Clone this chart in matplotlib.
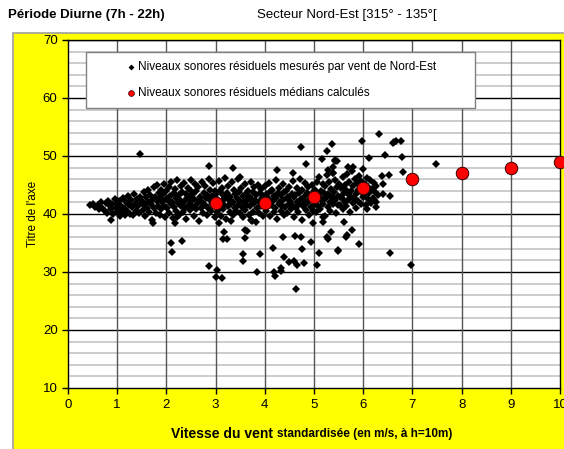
import matplotlib.pyplot as plt
from matplotlib.patches import Rectangle

plt.rcParams['font.family'] = ['Liberation Sans', 'DejaVu Sans']

# --- Data ---
# measured residual levels (wind speed m/s, dB(A)) - dense cloud read per 0.5 m/s bin
cloud = [
    (0.45, 41.6), (0.5, 41.8), (0.55, 41.2), (0.6, 41.5), (0.62, 40.8), (0.68, 42.1), (0.7, 41.0),
    (0.75, 40.5), (0.78, 41.9), (0.8, 40.2), (0.82, 42.3), (0.85, 41.3), (0.87, 39.0), (0.88, 40.8),
    (0.9, 41.7), (0.92, 40.0), (0.95, 42.6), (0.97, 41.1), (0.99, 40.4), (1.0, 41.8),
    (1.02, 40.9), (1.04, 42.2), (1.06, 39.6), (1.08, 41.4), (1.1, 40.3), (1.12, 42.8), (1.14, 41.0),
    (1.15, 39.8), (1.18, 42.0), (1.2, 40.6), (1.22, 43.1), (1.24, 41.6), (1.26, 40.0), (1.28, 42.4),
    (1.3, 41.2), (1.32, 39.9), (1.34, 43.4), (1.36, 41.8), (1.38, 40.5), (1.4, 42.6), (1.42, 41.4),
    (1.44, 40.1), (1.46, 43.0), (1.48, 41.9),
    (1.5, 42.3), (1.52, 40.7), (1.54, 43.8), (1.55, 41.5), (1.57, 39.6), (1.58, 42.9), (1.6, 41.1),
    (1.62, 44.2), (1.63, 42.0), (1.65, 40.4), (1.66, 43.3), (1.68, 41.7), (1.7, 38.9), (1.71, 42.5),
    (1.73, 38.4), (1.74, 44.6), (1.75, 41.0), (1.77, 43.0), (1.78, 40.1), (1.8, 42.2), (1.81, 45.0),
    (1.83, 41.4), (1.84, 43.6), (1.86, 39.8), (1.87, 42.8), (1.89, 44.1), (1.9, 40.9), (1.92, 42.0),
    (1.93, 43.4), (1.95, 41.3), (1.96, 45.2), (1.98, 39.5), (1.99, 42.6),
    (2.0, 43.9), (2.02, 41.0), (2.03, 42.4), (2.05, 44.7), (2.06, 40.2), (2.08, 43.1), (2.09, 41.7),
    (2.1, 45.5), (2.12, 42.0), (2.13, 39.3), (2.15, 43.6), (2.16, 41.2), (2.18, 44.3), (2.19, 42.7),
    (2.2, 40.6), (2.22, 45.8), (2.23, 41.9), (2.25, 43.2), (2.26, 39.8), (2.28, 42.5), (2.29, 44.9),
    (2.3, 41.4), (2.32, 43.8), (2.33, 40.3), (2.35, 42.1), (2.36, 45.3), (2.38, 41.0), (2.39, 43.5),
    (2.4, 39.2), (2.42, 42.8), (2.43, 44.4), (2.45, 41.6), (2.46, 43.0), (2.48, 40.7), (2.49, 45.9),
    (2.5, 42.2), (2.51, 44.0), (2.53, 41.3), (2.54, 43.4), (2.56, 39.7), (2.57, 42.6), (2.58, 45.1),
    (2.6, 40.9), (2.61, 43.9), (2.63, 41.8), (2.64, 44.6), (2.66, 42.3), (2.67, 38.8), (2.69, 43.0),
    (2.7, 41.1), (2.72, 45.6), (2.73, 42.0), (2.75, 40.2), (2.76, 43.7), (2.78, 41.5), (2.79, 44.8),
    (2.8, 42.7), (2.82, 39.9), (2.83, 43.3), (2.85, 41.0), (2.86, 46.1), (2.88, 42.4), (2.89, 44.2),
    (2.9, 40.6), (2.92, 43.1), (2.93, 41.7), (2.95, 45.3), (2.96, 42.9), (2.98, 39.4), (2.99, 44.0),
    (3.0, 41.4), (3.02, 43.6), (3.03, 40.4), (3.05, 42.5), (3.06, 45.7), (3.08, 41.1), (3.09, 43.9),
    (3.1, 39.6), (3.12, 42.2), (3.13, 44.5), (3.15, 40.8), (3.16, 43.2), (3.18, 41.6), (3.19, 46.2),
    (3.2, 42.8), (3.22, 39.1), (3.23, 43.7), (3.25, 41.3), (3.26, 44.9), (3.28, 42.4), (3.29, 40.3),
    (3.3, 43.0), (3.32, 41.8), (3.33, 45.5), (3.35, 42.1), (3.36, 39.8), (3.38, 44.1), (3.39, 41.0),
    (3.4, 43.4), (3.42, 40.6), (3.43, 42.7), (3.45, 46.0), (3.46, 41.5), (3.48, 43.8), (3.49, 40.1),
    (3.5, 42.3), (3.52, 44.4), (3.53, 41.2), (3.55, 43.1), (3.56, 39.4), (3.58, 42.0), (3.59, 45.2),
    (3.6, 40.7), (3.62, 43.5), (3.63, 41.6), (3.65, 44.0), (3.66, 42.6), (3.68, 39.9), (3.69, 43.0),
    (3.7, 41.3), (3.72, 45.6), (3.73, 42.2), (3.75, 40.4), (3.76, 43.8), (3.78, 41.9), (3.79, 44.6),
    (3.8, 42.5), (3.82, 38.7), (3.83, 43.3), (3.85, 41.0), (3.86, 45.0), (3.88, 42.1), (3.89, 40.2),
    (3.9, 43.6), (3.92, 41.4), (3.93, 44.3), (3.95, 42.8), (3.96, 39.6), (3.98, 43.1), (3.99, 41.7),
    (4.0, 44.8), (4.02, 42.0), (4.03, 40.5), (4.05, 43.4), (4.06, 41.3), (4.08, 45.4), (4.09, 42.6),
    (4.1, 39.7), (4.12, 43.9), (4.13, 41.6), (4.15, 44.2), (4.16, 42.3), (4.18, 40.3), (4.19, 43.1),
    (4.2, 41.0), (4.22, 45.8), (4.23, 42.8), (4.25, 39.2), (4.26, 43.6), (4.28, 41.8), (4.29, 44.5),
    (4.3, 42.1), (4.32, 40.6), (4.33, 43.3), (4.35, 41.4), (4.36, 45.1), (4.38, 42.5), (4.39, 39.9),
    (4.4, 43.8), (4.42, 41.2), (4.43, 44.0), (4.45, 42.7), (4.46, 40.1), (4.48, 43.0), (4.49, 41.7),
    (4.5, 44.6), (4.52, 42.3), (4.53, 40.8), (4.55, 43.5), (4.56, 41.5), (4.58, 45.7), (4.59, 42.9),
    (4.6, 39.5), (4.62, 43.2), (4.63, 41.1), (4.65, 44.4), (4.66, 42.0), (4.68, 40.4), (4.69, 43.7),
    (4.7, 41.8), (4.72, 46.0), (4.73, 42.6), (4.75, 38.9), (4.76, 44.1), (4.78, 41.3), (4.79, 43.0),
    (4.8, 42.2), (4.82, 45.3), (4.83, 40.7), (4.85, 43.6), (4.86, 41.9), (4.88, 44.7), (4.89, 42.4),
    (4.9, 39.8), (4.92, 43.3), (4.93, 41.2), (4.95, 45.0), (4.96, 42.8), (4.98, 40.5), (4.99, 43.9),
    (5.0, 41.6), (5.02, 44.2), (5.03, 42.5), (5.05, 40.3), (5.06, 45.6), (5.08, 43.1), (5.09, 41.4),
    (5.1, 46.3), (5.12, 42.9), (5.13, 40.9), (5.15, 44.0), (5.16, 42.2), (5.18, 45.1), (5.19, 41.7),
    (5.2, 43.6), (5.22, 39.6), (5.23, 44.8), (5.25, 42.7), (5.26, 46.7), (5.28, 41.2), (5.29, 43.4),
    (5.3, 45.5), (5.32, 42.0), (5.33, 40.6), (5.35, 44.3), (5.36, 42.9), (5.38, 47.0), (5.39, 41.8),
    (5.4, 43.8), (5.42, 45.9), (5.43, 42.4), (5.45, 40.2), (5.46, 44.6), (5.48, 43.1), (5.49, 41.5),
    (5.5, 45.2), (5.52, 43.0), (5.53, 41.6), (5.55, 44.4), (5.56, 42.7), (5.58, 46.4), (5.59, 40.8),
    (5.6, 43.7), (5.62, 45.0), (5.63, 42.1), (5.65, 44.1), (5.66, 41.3), (5.68, 46.9), (5.69, 43.4),
    (5.7, 42.5), (5.72, 45.5), (5.73, 40.4), (5.75, 44.0), (5.76, 43.0), (5.78, 47.4), (5.79, 41.9),
    (5.8, 44.8), (5.82, 42.8), (5.83, 46.0), (5.85, 43.5), (5.86, 41.1), (5.88, 45.3), (5.89, 44.2),
    (5.9, 42.3), (5.92, 46.6), (5.93, 43.9), (5.95, 41.7), (5.96, 45.7), (5.98, 44.5), (5.99, 42.9),
    (6.0, 47.7), (6.02, 43.3), (6.03, 45.1), (6.05, 41.5), (6.06, 44.0), (6.08, 46.2), (6.09, 42.6),
    (6.1, 44.7), (6.12, 43.6), (6.14, 45.8), (6.15, 41.9), (6.17, 44.3), (6.19, 42.8), (6.21, 45.4),
    (6.23, 43.8), (6.25, 41.2), (6.27, 44.9), (6.3, 43.2),
]

# scattered points outside the main cloud
outliers = [
    (1.46, 50.3), (2.87, 48.3), (3.35, 47.9), (2.09, 35.0), (2.11, 33.5), (2.32, 35.3), (2.17, 38.4),
    (2.22, 39.5), (3.07, 38.4), (3.17, 36.9), (3.15, 35.7), (3.23, 35.7), (3.31, 38.8), (3.6, 37.2),
    (3.64, 37.0), (3.6, 35.9), (3.56, 33.1), (3.56, 31.9), (2.87, 31.0), (3.03, 30.3), (3.01, 29.1),
    (3.13, 29.0), (3.74, 38.8), (3.84, 30.0), (3.9, 33.1), (4.17, 34.1), (4.19, 30.0), (4.21, 29.3),
    (4.33, 30.7), (4.33, 30.2), (4.37, 36.0), (4.39, 32.6), (4.49, 31.7), (4.59, 31.9), (4.65, 31.2),
    (4.63, 27.1), (4.61, 36.2), (4.25, 47.6), (4.57, 47.1), (3.5, 46.4), (4.74, 51.6), (5.37, 52.1),
    (5.26, 50.9), (5.16, 49.5), (5.43, 49.1), (5.47, 49.1), (4.84, 48.6), (5.39, 48.1), (5.28, 47.6),
    (5.39, 47.1), (3.72, 39.0), (4.74, 36.0), (4.94, 35.2), (4.76, 34.0), (4.8, 31.6), (5.06, 31.2),
    (5.1, 33.3), (5.26, 36.0), (5.28, 35.7), (5.34, 36.9), (5.49, 33.8), (5.18, 39.5), (5.18, 38.6),
    (4.98, 38.4), (6.32, 53.8), (5.98, 52.6), (6.6, 52.2), (6.63, 52.4), (6.67, 52.6), (6.77, 52.6),
    (6.44, 50.2), (6.12, 49.7), (6.79, 49.8), (6.81, 47.2), (5.69, 48.1), (5.79, 48.1), (6.38, 46.5),
    (6.52, 46.7), (6.41, 45.2), (6.4, 43.4), (6.54, 43.1), (5.43, 49.3), (5.6, 38.6), (5.77, 37.2),
    (5.67, 36.4), (5.65, 36.0), (5.91, 34.8), (5.49, 33.6), (6.54, 33.3), (6.97, 31.2), (6.22, 42.4),
    (6.26, 42.1), (6.08, 40.9), (7.48, 48.6),
]

measured_x = [p[0] for p in cloud + outliers]
measured_y = [p[1] for p in cloud + outliers]

# computed medians
median_speed = [3, 4, 5, 6, 7, 8, 9, 10]
median_level = [41.9, 41.9, 42.9, 44.5, 46.0, 47.1, 47.9, 49.0]

label_measured = 'Niveaux sonores résiduels mesurés par vent de Nord-Est'
label_median = 'Niveaux sonores résiduels médians calculés'

# --- Figure ---
fig = plt.figure(figsize=(5.64, 4.49), dpi=100)
fig.patch.set_facecolor('white')

# yellow chart area with grey border (behind the axes)
bg = Rectangle((13 / 564, -0.01), 1, 1 - 33 / 449 + 0.01, transform=fig.transFigure,
               facecolor='#ffff00', edgecolor='#a0a0a0', linewidth=1.2, zorder=-10)
fig.patches.append(bg)

ax = fig.add_axes([68 / 564, 1 - 388 / 449, 492 / 564, 348 / 449])
ax.set_zorder(1)
ax.set_facecolor('white')

ax.set_xlim(0, 10)
ax.set_ylim(10, 70)
ax.set_xticks(range(0, 11))
ax.set_yticks(range(10, 71, 10))

# grid: light minor horizontals, black majors, grey verticals
for y in range(12, 70, 2):
    if y % 10:
        ax.axhline(y, color='#c8c8c8', linewidth=1.3, zorder=1)
for y in range(20, 71, 10):
    ax.axhline(y, color='black', linewidth=1.0, zorder=1.5)
for x in range(1, 10):
    ax.axvline(x, color='#555555', linewidth=1.0, zorder=1.5)

for sp in ax.spines.values():
    sp.set_color('black')
    sp.set_linewidth(1.0)

ax.tick_params(axis='both', which='major', direction='out', length=4, width=1, labelsize=9.5)
ax.tick_params(axis='x', pad=4)

ax.plot(measured_x, measured_y, linestyle='none', marker='D', markersize=4.2,
        color='black', markeredgewidth=0, zorder=3)
ax.plot(median_speed, median_level, linestyle='none', marker='o', markersize=9,
        markerfacecolor='#ff0000', markeredgecolor='#3a0000', markeredgewidth=0.7,
        zorder=4, clip_on=False)

# legend box drawn by hand to match the spread-out layout
ax.add_patch(Rectangle((0.0366, 0.8046), 0.7904, 0.1609, transform=ax.transAxes,
                       facecolor='white', edgecolor='#808080', linewidth=1, zorder=5))
ax.plot([0.128], [0.922], transform=ax.transAxes, marker='D', markersize=3, color='black',
        markeredgewidth=0, zorder=6)
ax.plot([0.128], [0.848], transform=ax.transAxes, marker='o', markersize=4.2,
        markerfacecolor='#ff0000', markeredgecolor='#3a0000', markeredgewidth=0.5, zorder=6)
ax.text(0.142, 0.922, label_measured, transform=ax.transAxes, fontsize=8.5, va='center', zorder=6)
ax.text(0.142, 0.848, label_median, transform=ax.transAxes, fontsize=8.5, va='center', zorder=6)

ax.set_ylabel("Titre de l'axe", fontsize=8.5, labelpad=3)

# titles
fig.text(8 / 564, 1 - 15 / 449, 'Période Diurne (7h - 22h)', fontsize=9.5, fontweight='bold',
         va='center', ha='left')
fig.text(257 / 564, 1 - 15 / 449, 'Secteur Nord-Est [315° - 135°[', fontsize=9.5,
         va='center', ha='left')

# x label in two sizes
fig.text(171 / 564, 1 - 434 / 449, 'Vitesse du vent', fontsize=10, fontweight='bold',
         va='center', ha='left')
fig.text(277 / 564, 1 - 434 / 449, 'standardisée (en m/s, à h=10m)', fontsize=8.5,
         fontweight='bold', va='center', ha='left')

fig.savefig('out.png', dpi=100)
